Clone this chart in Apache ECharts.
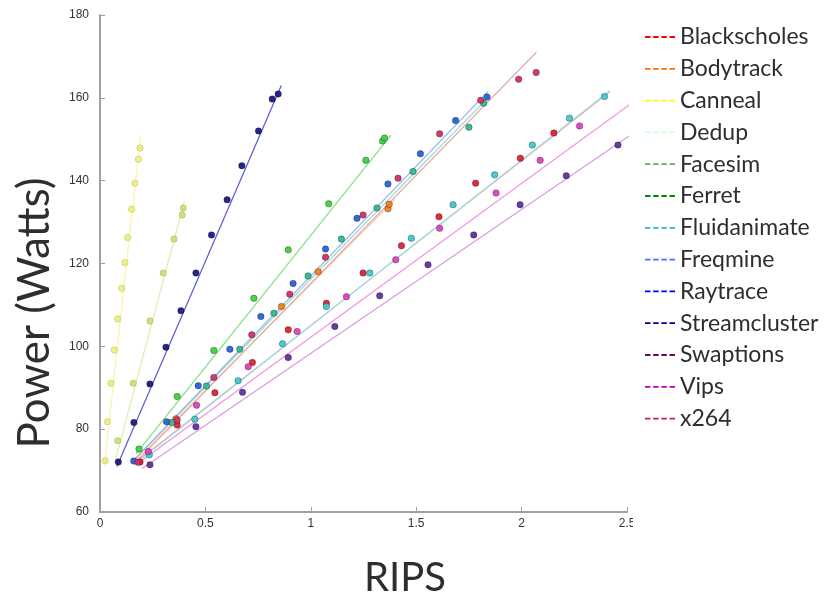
<!DOCTYPE html>
<html>
<head>
<meta charset="utf-8">
<script src="https://cdn.jsdelivr.net/npm/echarts@6/dist/echarts.min.js"></script>
<style>html,body{margin:0;padding:0;background:#fff;}#c{width:837px;height:598px;}</style>
</head>
<body>
<div id="c"></div>
<script>
// Benchmarks
const names = ['Blackscholes','Bodytrack','Canneal','Dedup','Facesim','Ferret','Fluidanimate','Freqmine','Raytrace','Streamcluster','Swaptions','Vips','x264'];
const legendColors = ['#ff0000','#ff6a00','#ffff00','#ccffcc','#6aaa6a','#008a00','#40b8b8','#3a78ff','#0000ff','#00008a','#6a006a','#c000c0','#c02050'];
const pointColors  = ['#e02030','#f08020','#eeee78','#c8e070','#40d040','#30b890','#40c8d0','#2a60d8','#2020e0','#1a1a80','#6030a0','#e040c0','#d03068'];
const lineColors   = ['#ff9a9a','#ffc8a0','#f6f6a8','#d4f0b4','#80e080','#98d8b8','#90e4e4','#90b0f0','#9090f0','#5858d8','#d898e0','#f090e0','#e0a8b4'];

// RIPS (x) and Power in Watts (y) per benchmark
const blackscholesX = [0.19, 0.366, 0.545, 0.723, 0.893, 1.074, 1.248, 1.430, 1.608, 1.782, 1.994, 2.153];
const blackscholesY = [72.1, 81.0, 88.8, 96.1, 104.0, 110.4, 117.7, 124.3, 131.3, 139.4, 145.4, 151.5];
const bodytrackX = [0.36, 0.861, 1.035, 1.366, 1.372];
const bodytrackY = [82.5, 109.6, 118.0, 133.2, 134.3];
const cannealX = [0.024, 0.036, 0.052, 0.068, 0.084, 0.103, 0.118, 0.131, 0.150, 0.166, 0.182, 0.190];
const cannealY = [72.4, 81.8, 91.1, 99.1, 106.6, 114.0, 120.2, 126.3, 133.1, 139.4, 145.2, 147.9];
const dedupX = [0.084, 0.158, 0.237, 0.300, 0.351, 0.390, 0.395];
const dedupY = [77.2, 91.1, 106.1, 117.7, 125.9, 131.7, 133.4];
const facesimX = [0.185, 0.366, 0.540, 0.730, 0.893, 1.085, 1.261, 1.340, 1.350];
const facesimY = [75.2, 87.9, 99.0, 111.6, 123.3, 134.4, 144.9, 149.6, 150.3];
const ferretX = [0.34, 0.505, 0.663, 0.825, 0.987, 1.145, 1.314, 1.485, 1.750, 1.820];
const ferretY = [81.6, 90.4, 99.3, 108.0, 117.0, 125.9, 133.4, 142.2, 152.9, 158.7];
const fluidanimateX = [0.234, 0.450, 0.655, 0.866, 1.074, 1.280, 1.477, 1.675, 1.872, 2.051, 2.227, 2.393];
const fluidanimateY = [73.8, 82.4, 91.7, 100.6, 109.6, 117.7, 126.1, 134.2, 141.4, 148.6, 155.1, 160.3];
const freqmineX = [0.16, 0.316, 0.466, 0.616, 0.763, 0.916, 1.070, 1.219, 1.366, 1.520, 1.687, 1.836];
const freqmineY = [72.3, 81.8, 90.5, 99.3, 107.2, 115.2, 123.5, 130.9, 139.2, 146.5, 154.5, 160.2];
const raytraceX = [];
const raytraceY = [];
const streamclusterX = [0.087, 0.161, 0.237, 0.313, 0.384, 0.455, 0.529, 0.603, 0.673, 0.752, 0.817, 0.845];
const streamclusterY = [72.1, 81.6, 90.9, 99.8, 108.6, 117.7, 126.9, 135.4, 143.6, 152.0, 159.7, 160.9];
const swaptionsX = [0.237, 0.455, 0.676, 0.893, 1.114, 1.327, 1.556, 1.773, 1.993, 2.212, 2.457];
const swaptionsY = [71.4, 80.6, 88.9, 97.3, 104.8, 112.2, 119.7, 126.9, 134.2, 141.2, 148.6];
const vipsX = [0.229, 0.458, 0.703, 0.935, 1.169, 1.403, 1.611, 1.879, 2.088, 2.275];
const vipsY = [74.6, 85.8, 95.1, 103.6, 112.0, 120.9, 128.5, 137.0, 144.9, 153.2];
const x264X = [0.18, 0.366, 0.540, 0.720, 0.900, 1.070, 1.248, 1.414, 1.611, 1.806, 1.986, 2.069];
const x264Y = [72.0, 82.2, 92.5, 102.8, 112.6, 121.5, 131.7, 140.6, 151.3, 159.4, 164.5, 166.1];

// Linear-fit line endpoints: [x0, y0, x1, y1]
const blackscholesFit = [0.17, 72.0, 2.42, 161.5];
const bodytrackFit = [0.17, 72.5, 1.40, 135.5];
const cannealFit = [0.02, 71.0, 0.193, 151.0];
const dedupFit = [0.07, 72.0, 0.40, 135.0];
const facesimFit = [0.17, 74.0, 1.38, 151.0];
const ferretFit = [0.17, 73.0, 1.84, 160.0];
const fluidanimateFit = [0.20, 73.0, 2.42, 161.8];
const freqmineFit = [0.15, 72.0, 1.84, 161.5];
const raytraceFit = [];
const streamclusterFit = [0.08, 71.0, 0.86, 163.0];
const swaptionsFit = [0.20, 70.5, 2.51, 150.8];
const vipsFit = [0.20, 72.5, 2.51, 158.3];
const x264Fit = [0.17, 72.0, 2.07, 171.0];

const xTicks = [0, 0.5, 1, 1.5, 2, 2.5];
const yTicks = [60, 80, 100, 120, 140, 160, 180];

const xs = [blackscholesX, bodytrackX, cannealX, dedupX, facesimX, ferretX, fluidanimateX, freqmineX, raytraceX, streamclusterX, swaptionsX, vipsX, x264X];
const ys = [blackscholesY, bodytrackY, cannealY, dedupY, facesimY, ferretY, fluidanimateY, freqmineY, raytraceY, streamclusterY, swaptionsY, vipsY, x264Y];
const fits = [blackscholesFit, bodytrackFit, cannealFit, dedupFit, facesimFit, ferretFit, fluidanimateFit, freqmineFit, raytraceFit, streamclusterFit, swaptionsFit, vipsFit, x264Fit];
const paleIdx = [2, 3];

const series = [];
names.forEach((n, i) => {
  const f = fits[i];
  series.push({
    name: n, type: 'line', silent: true, showSymbol: false, symbol: 'none', z: 1,
    data: f.length ? [[f[0], f[1]], [f[2], f[3]]] : [],
    lineStyle: { color: lineColors[i], width: 1.2 },
    itemStyle: { color: legendColors[i] }
  });
});
names.forEach((n, i) => {
  const pale = paleIdx.includes(i);
  series.push({
    name: n, type: 'scatter', z: 3, symbol: 'circle', symbolSize: 6.5,
    data: xs[i].map((x, k) => [x, ys[i][k]]),
    itemStyle: { color: pointColors[i], borderColor: pale ? 'rgba(0,0,0,0.12)' : 'rgba(0,0,0,0.3)', borderWidth: 1, opacity: 0.95 }
  });
});

const ICON = 'path://M0,0h6v2h-6z M9,0h6v2h-6z M18,0h6v2h-6z M27,0h6v2h-6z';
const chart = echarts.init(document.getElementById('c'), null, { renderer: 'canvas' });
chart.setOption({
  animation: false,
  backgroundColor: '#ffffff',
  grid: { left: 100, right: 210, top: 15, bottom: 86, containLabel: false },
  xAxis: {
    type: 'value', min: 0, max: 2.5, interval: 0.5,
    axisLine: { show: true, lineStyle: { color: '#a0a0a0', width: 2 } },
    axisTick: { show: true, inside: true, length: 5, lineStyle: { color: '#a0a0a0' } },
    splitLine: { show: false },
    axisLabel: { color: '#333', fontSize: 12, fontFamily: 'Liberation Sans, Arial', margin: 6,
      formatter: v => String(xTicks.find(t => Math.abs(t - v) < 1e-9) ?? v) }
  },
  yAxis: {
    type: 'value', min: 60, max: 180, interval: 20,
    axisLine: { show: true, lineStyle: { color: '#a0a0a0', width: 2 } },
    axisTick: { show: true, inside: true, length: 5, lineStyle: { color: '#a0a0a0' } },
    splitLine: { show: false },
    axisLabel: { color: '#333', fontSize: 12, fontFamily: 'Liberation Sans, Arial', margin: 11,
      formatter: v => String(yTicks.find(t => t === v) ?? v) }
  },
  legend: {
    orient: 'vertical', left: 640, top: 20,
    itemWidth: 30, itemHeight: 2, itemGap: 7.8,
    icon: ICON,
    selectedMode: false,
    textStyle: { fontSize: 23, fontFamily: 'Lato, Open Sans, sans-serif', color: '#2e2e2e', lineHeight: 24 },
    data: names.map((n, i) => ({ name: n, icon: ICON, itemStyle: { color: legendColors[i] } }))
  },
  graphic: [
    { type: 'text', x: 35, y: 313, rotation: Math.PI / 2, z: 10,
      style: { text: 'Power (Watts)', font: '44px Lato, "Open Sans", sans-serif', fill: '#2e2e2e', textAlign: 'center', textVerticalAlign: 'middle' } },
    { type: 'text', x: 405, y: 578, z: 10,
      style: { text: 'RIPS', font: '40px Lato, "Open Sans", sans-serif', fill: '#2e2e2e', textAlign: 'center', textVerticalAlign: 'middle' } },
    { type: 'rect', shape: { x: 633, y: 514, width: 40, height: 22 }, style: { fill: '#ffffff' }, z: 20 }
  ],
  series: series
});
</script>
</body>
</html>
